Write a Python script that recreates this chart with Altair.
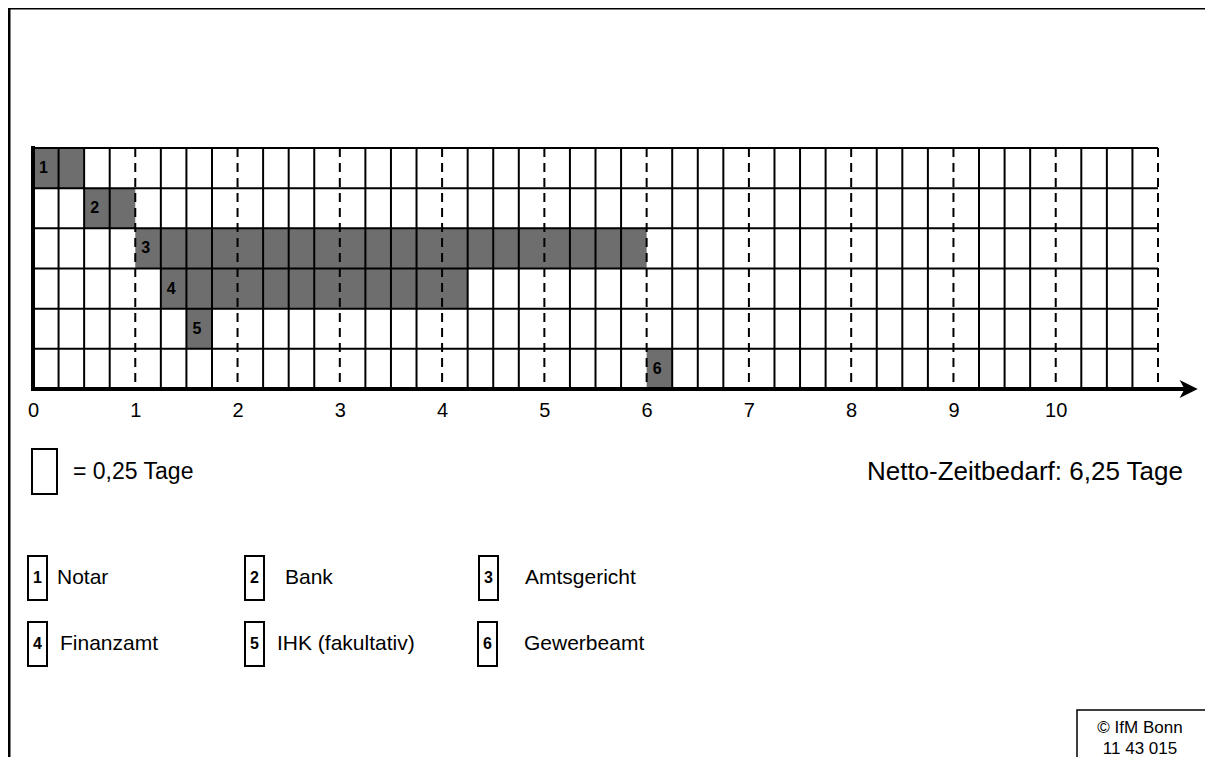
import altair as alt
import pandas as pd

# ---------------- data ----------------
task_ids = [1, 2, 3, 4, 5, 6]
task_names = ["Notar", "Bank", "Amtsgericht", "Finanzamt", "IHK (fakultativ)", "Gewerbeamt"]
task_rows = [0, 1, 2, 3, 4, 5]
task_start = [0.0, 0.5, 1.0, 1.25, 1.5, 6.0]
task_end = [0.5, 1.0, 6.0, 4.25, 1.75, 6.25]
day_ticks = [0, 1, 2, 3, 4, 5, 6, 7, 8, 9, 10]
total_days = 11
cell_days = 0.25
n_rows = 6
unit_text = "= 0,25 Tage"
total_text = "Netto-Zeitbedarf: 6,25 Tage"
copyright_lines = ["\u00a9 IfM Bonn", "11  43  015"]

# ---------------- layout ----------------
FONT = "Liberation Sans"
W, H = 1125, 241
PAD = {"left": 25, "top": 140, "right": 47, "bottom": 368}
GRAY = "#6e6e6e"

xs = alt.Scale(domain=[0, total_days], nice=False, zero=False)
ys = alt.Scale(domain=[0, n_rows], reverse=True, nice=False, zero=False)

tasks = pd.DataFrame({
    "id": task_ids, "name": task_names, "row": task_rows,
    "start": task_start, "end": task_end,
})
tasks["row2"] = tasks["row"] + 1
tasks["mid"] = tasks["row"] + 0.5

n_cells = int(round(total_days / cell_days))
quarter_lines = pd.DataFrame({"x": [i * cell_days for i in range(1, n_cells) if i % 4 != 0]})
day_lines = pd.DataFrame({"x": [float(d) for d in range(1, total_days + 1)]})
row_lines = pd.DataFrame({"y": list(range(0, n_rows))})
dummy = pd.DataFrame({"a": [0]})

axis = alt.Axis(values=day_ticks, format="d", domain=False, ticks=False, tickSize=0,
                grid=False, labelFont=FONT, labelFontSize=20, labelColor="black",
                labelPadding=11, title=None, labelFlush=False)

cells = alt.Chart(tasks).mark_rect(fill=GRAY).encode(
    x=alt.X("start:Q", scale=xs, axis=axis),
    x2="end:Q",
    y=alt.Y("row:Q", scale=ys, axis=None),
    y2="row2:Q",
)

vlines = alt.Chart(quarter_lines).mark_rule(color="black", strokeWidth=2).encode(
    x=alt.X("x:Q", scale=xs), y=alt.datum(0, scale=ys), y2=alt.datum(n_rows)
)
dlines = alt.Chart(day_lines).mark_rule(color="black", strokeWidth=2, strokeDash=[9, 6]).encode(
    x=alt.X("x:Q", scale=xs), y=alt.datum(0, scale=ys), y2=alt.datum(n_rows)
)
hlines = alt.Chart(row_lines).mark_rule(color="black", strokeWidth=2).encode(
    y=alt.Y("y:Q", scale=ys), x=alt.datum(0, scale=xs), x2=alt.datum(total_days)
)
left_axis = alt.Chart(dummy).mark_rule(color="black", strokeWidth=4, strokeCap="square").encode(
    x=alt.datum(0, scale=xs), y=alt.datum(0, scale=ys), y2=alt.datum(n_rows)
)
arrow_end = 11.3
bottom_axis = alt.Chart(dummy).mark_rule(color="black", strokeWidth=4, strokeCap="square").encode(
    y=alt.datum(n_rows, scale=ys), x=alt.datum(0, scale=xs), x2=alt.datum(arrow_end)
)
arrow_head = alt.Chart(dummy).mark_point(
    shape="M 1 0 L -1 -1 L -0.45 0 L -1 1 Z", filled=True, size=330, color="black", opacity=1
).encode(x=alt.datum(arrow_end, scale=xs), y=alt.datum(n_rows, scale=ys))

cell_labels = alt.Chart(tasks).mark_text(
    font=FONT, fontSize=16, fontWeight="bold", align="left", baseline="middle", dx=6, color="black"
).encode(x=alt.X("start:Q", scale=xs), y=alt.Y("mid:Q", scale=ys), text="id:N")

layers = [cells, vlines, dlines, hlines, left_axis, bottom_axis, arrow_head, cell_labels]

# page frame (left and top lines)
layers.append(alt.Chart(dummy).mark_rule(color="black", strokeWidth=3).encode(
    x=alt.value(-24), y=alt.value(-141), y2=alt.value(H + PAD["bottom"])))
layers.append(alt.Chart(dummy).mark_rule(color="black", strokeWidth=3).encode(
    y=alt.value(-140), x=alt.value(-25.5), x2=alt.value(W + PAD["right"])))

# unit legend
layers.append(alt.Chart(dummy).mark_rect(fill="white", stroke="black", strokeWidth=2).encode(
    x=alt.value(-1), x2=alt.value(24), y=alt.value(301), y2=alt.value(346)))
layers.append(alt.Chart(dummy).mark_text(font=FONT, fontSize=23, align="left", baseline="middle",
                                          color="black").encode(
    x=alt.value(40), y=alt.value(324), text=alt.value(unit_text)))
layers.append(alt.Chart(dummy).mark_text(font=FONT, fontSize=26, align="right", baseline="middle",
                                          color="black").encode(
    x=alt.value(1150), y=alt.value(324), text=alt.value(total_text)))

# task legend
box_x = [-5, 212, 446, -5, 212, 445]
label_x = [24, 252, 492, 27, 244, 491]
row_y = [408, 408, 408, 474, 474, 474]
for i in range(len(task_ids)):
    layers.append(alt.Chart(dummy).mark_rect(fill="white", stroke="black", strokeWidth=2).encode(
        x=alt.value(box_x[i]), x2=alt.value(box_x[i] + 19),
        y=alt.value(row_y[i]), y2=alt.value(row_y[i] + 44)))
    layers.append(alt.Chart(dummy).mark_text(font=FONT, fontSize=16, fontWeight="bold",
                                              align="center", baseline="middle", color="black").encode(
        x=alt.value(box_x[i] + 9.5), y=alt.value(row_y[i] + 22), text=alt.value(str(task_ids[i]))))
    layers.append(alt.Chart(dummy).mark_text(font=FONT, fontSize=21, align="left",
                                              baseline="middle", color="black").encode(
        x=alt.value(label_x[i]), y=alt.value(row_y[i] + 22), text=alt.value(task_names[i])))

# copyright box
layers.append(alt.Chart(dummy).mark_rect(fill="white", stroke="black", strokeWidth=1.5).encode(
    x=alt.value(1044), x2=alt.value(W + PAD["right"] + 20), y=alt.value(562), y2=alt.value(H + PAD["bottom"] + 20)))
for j, line in enumerate(copyright_lines):
    layers.append(alt.Chart(dummy).mark_text(font=FONT, fontSize=17, align="center",
                                              baseline="middle", color="black").encode(
        x=alt.value(1107), y=alt.value(580 + j * 21), text=alt.value(line)))

chart = alt.layer(*layers).properties(
    width=W, height=H,
    autosize=alt.AutoSizeParams(type="none"),
    padding=PAD,
    background="white",
).configure_view(strokeWidth=0)

chart.save("out.html", embed_options={"renderer": "svg", "actions": False})
